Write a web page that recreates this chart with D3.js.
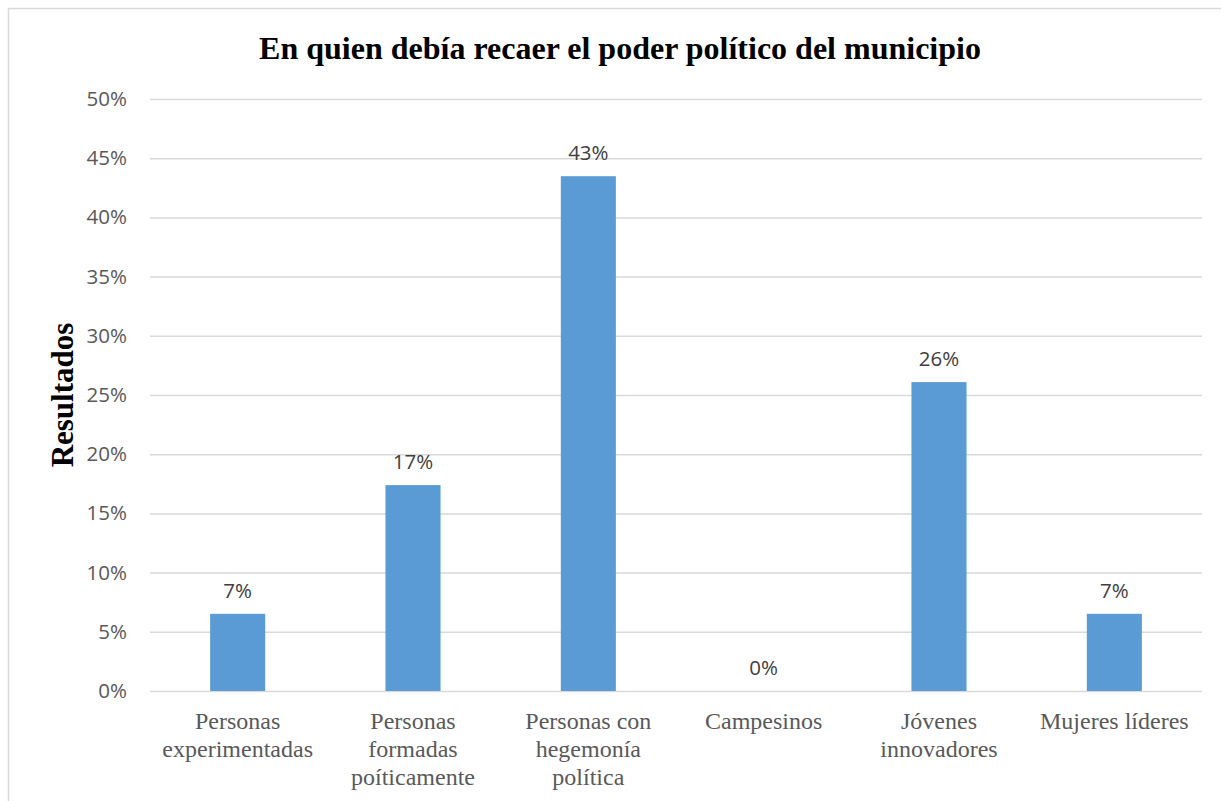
<!DOCTYPE html>
<html>
<head>
<meta charset="utf-8">
<script src="https://cdn.jsdelivr.net/npm/d3@7"></script>
<style>
  body { margin: 0; background: #fff; }
  svg { display: block; }
</style>
</head>
<body>
<svg id="chart" width="1221" height="801"></svg>
<script>
  const CHART_TITLE = 'En quien debía recaer el poder político del municipio';
  const Y_LABEL = 'Resultados';
  const categories = [
    ['Personas', 'experimentadas'],
    ['Personas', 'formadas', 'poíticamente'],
    ['Personas con', 'hegemonía', 'política'],
    ['Campesinos'],
    ['Jóvenes', 'innovadores'],
    ['Mujeres líderes']
  ];
  const values = [0.0652, 0.1739, 0.4348, 0, 0.2609, 0.0652];
  const yTicks = [0, 0.05, 0.10, 0.15, 0.20, 0.25, 0.30, 0.35, 0.40, 0.45, 0.50];

  const BAR_COLOR = '#5B9BD5';
  const GRID_COLOR = '#D9D9D9';
  const TEXT_COLOR = '#595959';

  var svg = d3.select('#chart');
  var margin = { left: 150, right: 19, top: 99, bottom: 110 };
  var width = 1221 - margin.left - margin.right;
  var height = 801 - margin.top - margin.bottom;

  // chart frame
  svg.append('rect')
    .attr('x', 8.5).attr('y', 8.5)
    .attr('width', 1240).attr('height', 820)
    .attr('fill', 'none')
    .attr('stroke', GRID_COLOR)
    .attr('stroke-width', 1.5);

  var g = svg.append('g')
    .attr('transform', 'translate(' + margin.left + ',' + margin.top + ')');

  var x = d3.scaleBand()
    .domain(d3.range(categories.length))
    .range([0, width])
    .paddingInner(0.686)
    .paddingOuter(0.343);

  var y = d3.scaleLinear()
    .domain([0, 0.5])
    .range([height, 0]);

  var yAxis = g.append('g')
    .call(d3.axisLeft(y)
      .tickValues(yTicks)
      .tickFormat(d3.format('.0%'))
      .tickSize(-width)
      .tickPadding(23));
  yAxis.select('.domain').remove();
  yAxis.selectAll('.tick line')
    .attr('stroke', GRID_COLOR)
    .attr('stroke-width', 1.5);
  yAxis.selectAll('.tick text')
    .attr('fill', TEXT_COLOR)
    .style('font-family', 'Open Sans, sans-serif')
    .style('font-size', '20.5px');

  g.selectAll('.bar')
    .data(values)
    .enter()
    .append('rect')
    .attr('class', 'bar')
    .attr('x', function (d, i) { return x(i); })
    .attr('y', function (d) { return y(d); })
    .attr('width', x.bandwidth())
    .attr('height', function (d) { return height - y(d); })
    .attr('fill', BAR_COLOR);

  g.selectAll('.value-label')
    .data(values)
    .enter()
    .append('text')
    .attr('class', 'value-label')
    .attr('x', function (d, i) { return x(i) + x.bandwidth() / 2; })
    .attr('y', function (d) { return y(d) - 16; })
    .attr('text-anchor', 'middle')
    .attr('fill', '#404040')
    .style('font-family', 'Open Sans, sans-serif')
    .style('font-size', '20.5px')
    .text(function (d) { return Math.round(d * 100) + '%'; });

  var catLabels = g.selectAll('.cat-label')
    .data(categories)
    .enter()
    .append('text')
    .attr('class', 'cat-label')
    .attr('text-anchor', 'middle')
    .attr('fill', TEXT_COLOR)
    .style('font-family', 'Liberation Serif, serif')
    .style('font-size', '24px')
    .attr('transform', function (d, i) {
      return 'translate(' + (x(i) + x.bandwidth() / 2) + ',' + (height + 38) + ')';
    });
  catLabels.each(function (lines) {
    var t = d3.select(this);
    lines.forEach(function (line, k) {
      t.append('tspan')
        .attr('x', 0)
        .attr('y', k * 28)
        .text(line);
    });
  });

  svg.append('text')
    .attr('x', 620)
    .attr('y', 59)
    .attr('text-anchor', 'middle')
    .attr('fill', '#000')
    .style('font-family', 'Liberation Serif, serif')
    .style('font-weight', 'bold')
    .style('font-size', '32px')
    .text(CHART_TITLE);

  svg.append('text')
    .attr('transform', 'translate(73,395) rotate(-90)')
    .attr('text-anchor', 'middle')
    .attr('fill', '#000')
    .style('font-family', 'Liberation Serif, serif')
    .style('font-weight', 'bold')
    .style('font-size', '31px')
    .text(Y_LABEL);
</script>
</body>
</html>
